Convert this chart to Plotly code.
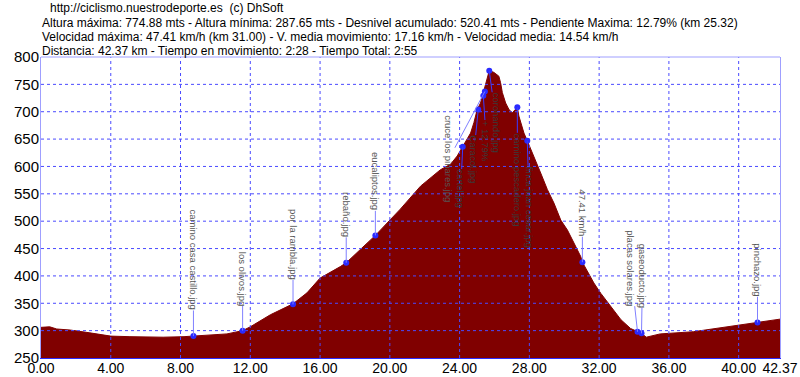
import plotly.graph_objects as go

# ---------------- data ----------------
km = [0.00, 0.50, 0.90, 1.70, 2.80, 3.20, 4.00, 5.10, 7.00, 8.20, 8.74, 10.66, 11.56, 12.00,
      13.15, 14.45, 15.25, 16.00, 17.16, 17.50, 18.30, 19.17, 20.60, 21.76, 22.90, 23.48,
      23.86, 24.18, 24.63, 24.82, 25.01, 25.20, 25.39, 25.49, 25.70, 25.96, 26.25, 26.35,
      26.45, 26.64, 26.83, 27.02, 27.21, 27.31, 27.40, 27.69, 27.88, 28.26, 28.65, 29.03,
      29.41, 29.80, 30.18, 30.56, 30.95, 31.04, 31.70, 32.10, 32.68, 33.25, 33.80, 34.20,
      34.43, 34.70, 35.50, 37.40, 39.40, 40.10, 41.08, 42.37]
elev = [306, 307, 303, 301, 296, 294, 290, 289, 288, 289, 290, 294, 300, 307,
        329, 349, 369, 396, 417, 424, 448, 474, 522, 564, 594, 604,
        619, 636, 661, 680, 704, 716, 738, 753, 775, 772, 765, 753,
        735, 716, 704, 698, 704, 708, 692, 661, 647, 619, 588, 558,
        533, 502, 484, 460, 435, 425, 387, 368, 344, 320, 304, 298,
        295, 288, 294, 298, 307, 310, 315, 321]

photo_names = ["camino casa castillo.jpg", "los olivos.jpg", "por la rambla.jpg", "rebaño.jpg",
               "eucaliptos.jpg", "cruce los pinares.jpg", "Caracol.jpg", "cartel.jpg",
               "+ 12.79%", "coronando.jpg", "camino pescadero.jpg", "finca juan cesar.jpg",
               "47.41 km/h", "placas solares.jpg", "gaseoducto.jpg", "pinchazo.jpg"]
photo_km = [8.74, 11.56, 14.45, 17.50, 19.17, 25.45, 25.07, 24.18,
            25.36, 25.70, 27.31, 27.88, 31.04, 34.20, 34.43, 41.08]
photo_elev = [290, 300, 348, 424, 474, 737, 704, 636,
              729, 775, 708, 647, 425, 298, 295, 315]

x_ticks = [0, 4, 8, 12, 16, 20, 24, 28, 32, 36, 40, 42.37]
y_ticks = [250, 300, 350, 400, 450, 500, 550, 600, 650, 700, 750, 800]

header_lines = [
    "http://ciclismo.nuestrodeporte.es  (c) DhSoft",
    "Altura máxima: 774.88 mts - Altura mínima: 287.65 mts - Desnivel acumulado: 520.41 mts - Pendiente Maxima: 12.79% (km 25.32)",
    "Velocidad máxima: 47.41 km/h (km 31.00) - V. media movimiento: 17.16 km/h - Velocidad media: 14.54 km/h",
    "Distancia: 42.37 km - Tiempo en movimiento: 2:28 - Tiempo Total: 2:55",
]

# ---------------- label styling (pixel offsets of the connector line) ----------------
label_dx = [0, 0, 0, 0, 0, -36, -5, -2, 3, 7, 0, 2, 0, -7, 1, 0]
label_dy = [-25, -24, -24, -25, -24, 23, 25, 22, 24, 21, 25, 24, -25, -25, -25, -25]
label_inside = [False, False, False, False, False, False, True, True,
                True, True, True, True, False, False, False, False]
LABEL_SIZE = 9.5

# Arial / Liberation Sans advance widths (per 1000 em) to size rotated labels
_W = {" ": 278, ".": 278, "/": 278, "+": 584, "%": 889, "C": 722, "f": 278, "i": 222,
      "j": 222, "l": 222, "t": 278, "r": 333, "m": 833, "w": 722, "c": 500, "k": 500,
      "s": 500, "v": 500, "x": 500, "y": 500, "z": 500}


def text_len(s, size):
    return sum(_W.get(ch, 556) for ch in s) * size / 1000.0


X0, X1 = 0, 42.37
Y0, Y1 = 250, 800

fig = go.Figure()

# elevation profile
fig.add_trace(go.Scatter(x=km, y=elev, mode="lines", line=dict(color="#800000", width=1),
                         fill="tozeroy", fillcolor="#800000", hoverinfo="skip"))

# grid lines (drawn above fill, as in the original)
gx, gy = [], []
for v in x_ticks:
    if X0 < v < X1:
        gx += [v, v, None]
        gy += [Y0, Y1, None]
for v in y_ticks:
    if Y0 < v < Y1:
        gx += [X0, X1, None]
        gy += [v, v, None]
fig.add_trace(go.Scatter(x=gx, y=gy, mode="lines",
                         line=dict(color="#4a4aff", width=1, dash="3px,3px"),
                         hoverinfo="skip", connectgaps=False))

# photo points
fig.add_trace(go.Scatter(x=photo_km, y=photo_elev, mode="markers",
                         marker=dict(color="#2a2aff", size=6), hoverinfo="skip"))

annotations = []
for name, xk, ye, dx, dy, inside in zip(photo_names, photo_km, photo_elev,
                                         label_dx, label_dy, label_inside):
    half = text_len(name, LABEL_SIZE) / 2.0 + 1
    ay = dy + half if dy > 0 else dy - half
    annotations.append(dict(
        x=xk, y=ye, xref="x", yref="y", text=name, showarrow=True,
        arrowhead=0, arrowwidth=1,
        arrowcolor="#3a3aff" if inside else "#8080ff",
        ax=dx, ay=ay, textangle=90,
        xanchor="center", yanchor="middle",
        font=dict(family="Liberation Sans, Arial", size=LABEL_SIZE,
                  color="#3a3a3a" if inside else "#555555"),
        borderpad=0,
    ))

header_y = [8, 22.5, 37, 51.5]
header_x = [48, 40, 40, 40]
for t, py, px in zip(header_lines, header_y, header_x):
    annotations.append(dict(
        text=t, xref="paper", yref="paper",
        x=(px - 41) / 739.0, y=(358 - py) / 301.0,
        xanchor="left", yanchor="middle", showarrow=False,
        font=dict(family="Liberation Sans, Arial", size=12, color="#000000"),
    ))

fig.update_layout(
    width=800, height=377,
    margin=dict(l=41, r=20, t=57, b=19, autoexpand=False),
    paper_bgcolor="white", plot_bgcolor="white",
    showlegend=False,
    font=dict(family="Liberation Sans, Arial", color="#000000"),
    annotations=annotations,
    shapes=[dict(type="line", xref="paper", yref="paper", x0=0, x1=1, y0=1, y1=1,
                 line=dict(color="#9f9fff", width=1), layer="above")],
)
fig.update_xaxes(range=[X0, X1], tickvals=x_ticks, ticktext=[f"{v:.2f}" for v in x_ticks],
                 showgrid=False, zeroline=False, showline=True, linecolor="#2b2bff",
                 linewidth=1, ticks="", automargin=False, ticklabelstandoff=-3,
                 tickfont=dict(size=14, color="#000000"))
fig.update_yaxes(range=[Y0, Y1], tickvals=y_ticks, ticktext=[str(v) for v in y_ticks],
                 showgrid=False, zeroline=False, showline=True, mirror=True,
                 linecolor="#9f9fff", linewidth=1, ticks="", automargin=False,
                 ticklabelstandoff=-2,
                 tickfont=dict(size=15, color="#000000"))

fig.write_html("out.html")
